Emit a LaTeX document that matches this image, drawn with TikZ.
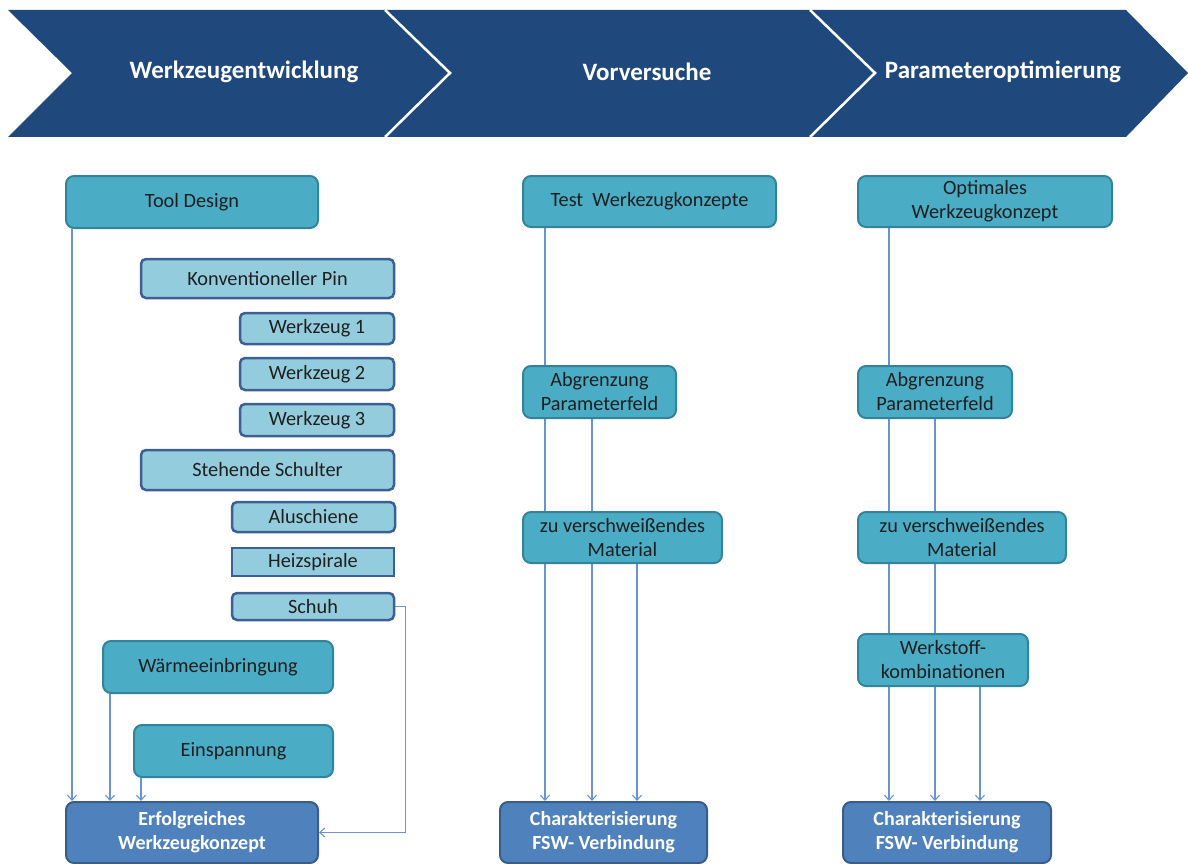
\documentclass[tikz,border=0pt]{standalone}
\usepackage{fontspec}
\setmainfont{Carlito}
\usetikzlibrary{arrows.meta,calc}
\pgfdeclarelayer{bg}
\pgfsetlayers{bg,main}

\definecolor{chev}{HTML}{1F497D}
\definecolor{tealfill}{HTML}{4BACC6}
\definecolor{tealline}{HTML}{31849B}
\definecolor{palefill}{HTML}{93CDDD}
\definecolor{paleline}{HTML}{3C5F95}
\definecolor{deepfill}{HTML}{4F81BD}
\definecolor{deepline}{HTML}{385D8A}
\definecolor{wire}{HTML}{6A93D0}

\tikzset{
  boxbase/.style={rounded corners=8pt, inner sep=0pt, align=center,
    font=\fontsize{20.3}{24}\selectfont, text=black!88},
  mainbox/.style={boxbase, fill=tealfill, draw=tealline, line width=2pt},
  subbox/.style={boxbase, fill=palefill, draw=paleline, line width=2.5pt, rounded corners=5pt},
  goalbox/.style={boxbase, fill=deepfill, draw=deepline, line width=2pt, text=white,
    font=\bfseries\fontsize{20}{24}\selectfont},
  headtext/.style={text=white, font=\bfseries\fontsize{25}{28}\selectfont},
  conn/.style={draw=wire, line width=1.1pt, -{Straight Barb[length=5pt,width=9pt]}},
}

\begin{document}
\begin{tikzpicture}[x=1pt,y=-1pt]
\useasboundingbox (0,0) rectangle (1188,864);

% process chevrons
\fill[chev] (8,10) -- (385,10) -- (450,73) -- (385,137) -- (8,137) -- (72,73) -- cycle;
\fill[chev] (385,10) -- (810,10) -- (875,73) -- (810,137) -- (385,137) -- (450,73) -- cycle;
\fill[chev] (810,10) -- (1126,10) -- (1188,73) -- (1126,137) -- (810,137) -- (875,73) -- cycle;
\draw[white, line width=2.5pt] (385,10) -- (450,73) -- (385,137);
\draw[white, line width=2.5pt] (810,10) -- (875,73) -- (810,137);
\node[headtext] (h1) at (244,72) {Werkzeugentwicklung};
\node[headtext] (h2) at (647,72) {Vorversuche};
\node[headtext] (h3) at (1003,72) {Parameteroptimierung};

% left column
\node[mainbox, minimum width=252pt, minimum height=52pt] (td) at (192,202) {Tool Design};
\node[subbox, minimum width=253pt, minimum height=39pt] (pin) at (267.5,278.5) {Konventioneller Pin};
\node[subbox, minimum width=154pt, minimum height=31pt] (w1) at (317,328.5) {Werkzeug 1};
\node[subbox, minimum width=154pt, minimum height=32pt] (w2) at (317,374) {Werkzeug 2};
\node[subbox, minimum width=154pt, minimum height=32pt] (w3) at (317,420) {Werkzeug 3};
\node[subbox, minimum width=253pt, minimum height=40pt] (ss) at (267.5,470) {Stehende Schulter};
\node[subbox, minimum width=163pt, minimum height=30pt] (alu) at (313.5,517) {Aluschiene};
\node[subbox, sharp corners, minimum width=162pt, minimum height=28pt] (heiz) at (313,562) {Heizspirale};
\node[subbox, minimum width=162pt, minimum height=27pt] (schuh) at (313,606.5) {Schuh};
\node[mainbox, minimum width=230pt, minimum height=52pt] (waerme) at (218,667) {Wärmeeinbringung};
\node[mainbox, minimum width=199pt, minimum height=52pt] (einsp) at (233.5,751) {Einspannung};
\node[goalbox, minimum width=252pt, minimum height=61pt] (ek) at (192,832.5) {Erfolgreiches\\Werkzeugkonzept};

% middle column
\node[mainbox, minimum width=253pt, minimum height=51pt] (test) at (649.5,201.5) {Test\ \ Werkezugkonzepte};
\node[mainbox, minimum width=153pt, minimum height=52pt] (abg) at (599.5,392) {Abgrenzung\\Parameterfeld};
\node[mainbox, minimum width=199pt, minimum height=51pt] (mat) at (622.5,537.5) {zu verschweißendes\\Material};
\node[goalbox, minimum width=207pt, minimum height=61pt] (ch) at (603.5,832.5) {Charakterisierung\\FSW- Verbindung};

% right column
\node[mainbox, minimum width=254pt, minimum height=51pt] (opt) at (985,201.5) {Optimales\\Werkzeugkonzept};
\node[mainbox, minimum width=154pt, minimum height=52pt] (abgb) at (935,392) {Abgrenzung\\Parameterfeld};
\node[mainbox, minimum width=208pt, minimum height=51pt] (matb) at (962,537.5) {zu verschweißendes\\Material};
\node[mainbox, minimum width=170pt, minimum height=52pt] (wk) at (943,660) {Werkstoff-\\kombinationen};
\node[goalbox, minimum width=208pt, minimum height=61pt] (chb) at (947,832.5) {Charakterisierung\\FSW- Verbindung};

% connectors, behind the boxes
\begin{pgfonlayer}{bg}
  \coordinate (s1) at ([xshift=7pt]td.south west);
  \coordinate (s2) at ([xshift=8pt]waerme.south west);
  \coordinate (s3) at ([xshift=8pt]einsp.south west);
  \draw[conn] (s1) -- (s1 |- ek.north);
  \draw[conn] (s2) -- (s2 |- ek.north);
  \draw[conn] (s3) -- (s3 |- ek.north);
  \draw[conn] (schuh.east) -- ++(10,0) |- (ek.east);

  \coordinate (m1) at ([xshift=23pt]test.south west);
  \coordinate (m2) at ([xshift=70pt]abg.south west);
  \coordinate (m3) at ([xshift=115pt]mat.south west);
  \draw[conn] (m1) -- (m1 |- ch.north);
  \draw[conn] (m2) -- (m2 |- ch.north);
  \draw[conn] (m3) -- (m3 |- ch.north);

  \coordinate (r1) at ([xshift=32pt]opt.south west);
  \coordinate (r2) at ([xshift=78pt]abgb.south west);
  \coordinate (r3) at ([xshift=123pt]wk.south west);
  \draw[conn] (r1) -- (r1 |- chb.north);
  \draw[conn] (r2) -- (r2 |- chb.north);
  \draw[conn] (r3) -- (r3 |- chb.north);
\end{pgfonlayer}
\end{tikzpicture}
\end{document}
